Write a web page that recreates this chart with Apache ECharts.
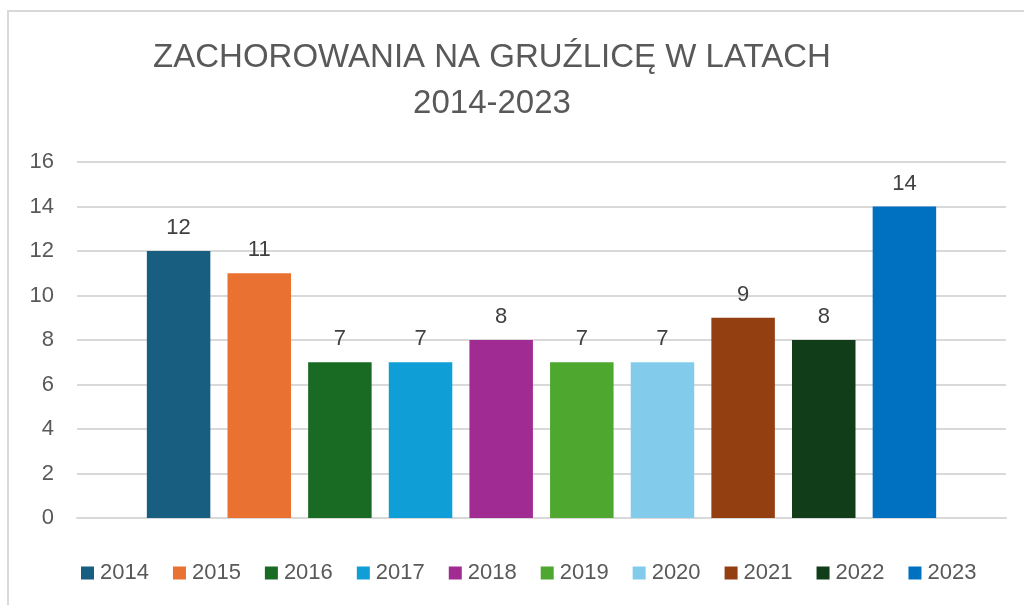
<!DOCTYPE html>
<html>
<head>
<meta charset="utf-8">
<script src="https://cdn.jsdelivr.net/npm/echarts@6/dist/echarts.min.js"></script>
<style>
  html, body { margin: 0; padding: 0; background: #fff; }
  #chart { width: 1024px; height: 605px; }
</style>
</head>
<body>
<div id="chart"></div>
<script>
// data
var years = ['2014', '2015', '2016', '2017', '2018', '2019', '2020', '2021', '2022', '2023'];
var cases = [12, 11, 7, 7, 8, 7, 7, 9, 8, 14];
var colors = ['#175E80', '#E97132', '#196B24', '#0F9ED5', '#A02B93', '#4EA72E', '#83CBEB', '#943F12', '#113E18', '#0070C0'];
var yTicks = [0, 2, 4, 6, 8, 10, 12, 14, 16];

var font = '"Liberation Sans", Arial, sans-serif';

var series = years.map(function (y, i) {
  return {
    name: y,
    type: 'bar',
    data: [cases[i]],
    barWidth: 63.5,
    barGap: '27%',
    itemStyle: { color: colors[i] },
    label: {
      show: true,
      position: 'top',
      distance: 12,
      color: '#404040',
      fontSize: 22
    }
  };
});

var chart = echarts.init(document.getElementById('chart'));
chart.setOption({
  animation: false,
  textStyle: { fontFamily: font },
  title: {
    text: 'ZACHOROWANIA NA GRUŹLICĘ W LATACH\n2014-2023',
    left: 487,
    textAlign: 'center',
    top: 30,
    textStyle: {
      fontFamily: font,
      fontWeight: 'normal',
      fontSize: 33,
      lineHeight: 46,
      color: '#595959'
    }
  },
  graphic: [{
    type: 'rect',
    shape: { x: 8, y: 11, width: 1100, height: 700 },
    style: { fill: 'none', stroke: '#d9d9d9', lineWidth: 2 },
    silent: true
  }],
  legend: {
    left: 76,
    top: 557,
    itemWidth: 13,
    itemHeight: 13,
    itemGap: 24,
    icon: 'rect',
    textStyle: { fontSize: 22, color: '#595959', padding: [0, 0, 0, 1] },
    data: years
  },
  grid: { left: 77, right: 18, top: 162, bottom: 87 },
  xAxis: {
    type: 'category',
    data: [''],
    axisTick: { show: false },
    axisLabel: { show: false },
    axisLine: { lineStyle: { color: '#d9d9d9', width: 2 } }
  },
  yAxis: {
    type: 'value',
    min: yTicks[0],
    max: yTicks[yTicks.length - 1],
    interval: 2,
    axisLine: { show: false },
    axisTick: { show: false },
    axisLabel: { color: '#595959', fontSize: 22, margin: 23 },
    splitLine: { lineStyle: { color: '#d9d9d9', width: 2 } }
  },
  series: series
});
</script>
</body>
</html>
